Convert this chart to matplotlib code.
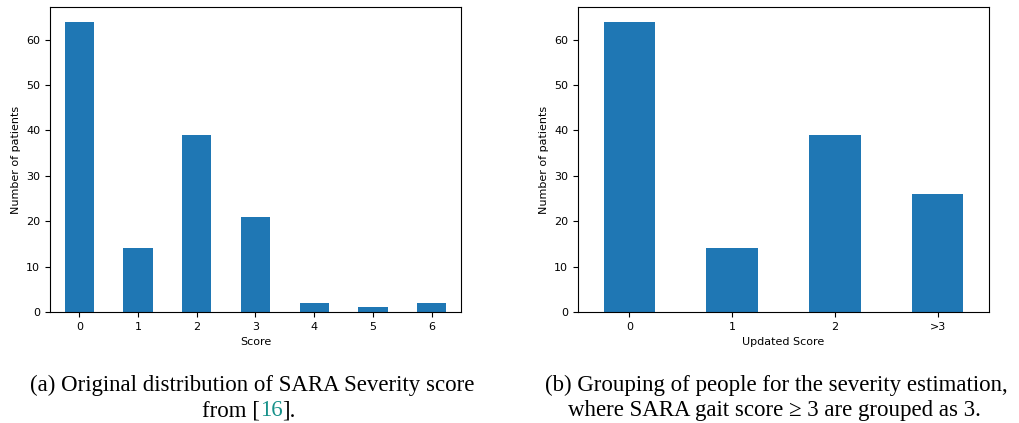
import pandas as pd
import matplotlib
matplotlib.use("Agg")
import matplotlib.pyplot as plt

scores = ["0", "1", "2", "3", "4", "5", "6"]
counts = [64, 14, 39, 21, 2, 1, 2]

updated_scores = ["0", "1", "2", ">3"]
updated_counts = [64, 14, 39, 26]

CAPTION_FONT = "Liberation Serif"
CAPTION_SIZE = 16.5
LINK_COLOR = "#17918a"


def draw_bars(ax, labels, values, xlabel):
    s = pd.Series(values, index=labels)
    s.plot(kind="bar", ax=ax, rot=0, color="#1f77b4")
    ax.set_xlabel(xlabel, fontsize=8)
    ax.set_ylabel("Number of patients", fontsize=8)
    ax.tick_params(labelsize=8)


def centered_line(fig, x, y, pieces):
    # pieces: list of (text, color); draw them side by side, centered on x
    texts = []
    for txt, col in pieces:
        t = fig.text(0, y, txt, color=col, fontsize=CAPTION_SIZE,
                     family=CAPTION_FONT, ha="left", va="baseline")
        texts.append(t)
    fig.canvas.draw()
    r = fig.canvas.get_renderer()
    widths = [t.get_window_extent(r).width / fig.bbox.width for t in texts]
    pos = x - sum(widths) / 2
    for t, w in zip(texts, widths):
        t.set_x(pos)
        pos += w


def create_chart():
    fig = plt.figure(figsize=(10.2, 4.23), dpi=100)

    ax1 = fig.add_axes([50 / 1020, 111 / 423, 411 / 1020, 305 / 423])
    draw_bars(ax1, scores, counts, "Score")

    ax2 = fig.add_axes([578 / 1020, 111 / 423, 411 / 1020, 305 / 423])
    draw_bars(ax2, updated_scores, updated_counts, "Updated Score")

    y1 = 1 - 391 / 423
    y2 = 1 - 416 / 423
    centered_line(fig, 252 / 1020, y1,
                  [("(a) Original distribution of SARA Severity score", "black")])
    centered_line(fig, 249 / 1020, y2,
                  [("from [", "black"), ("16", LINK_COLOR), ("].", "black")])
    centered_line(fig, 776 / 1020, y1,
                  [("(b) Grouping of people for the severity estimation,", "black")])
    centered_line(fig, 774 / 1020, y2,
                  [("where SARA gait score \u2265 3 are grouped as 3.", "black")])

    fig.savefig("out.png", dpi=100)
    plt.close(fig)


create_chart()
